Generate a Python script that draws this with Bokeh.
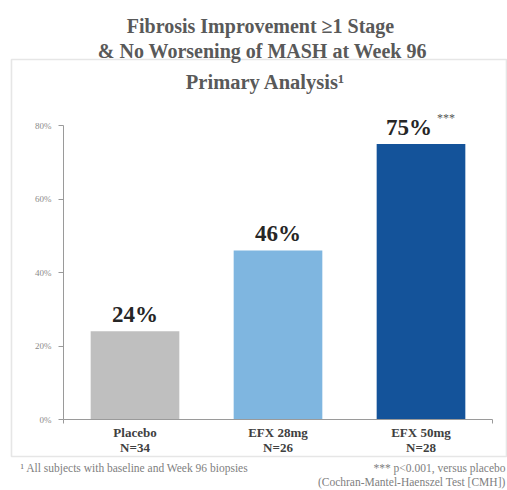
from bokeh.plotting import figure
from bokeh.models import (ColumnDataSource, Range1d, LabelSet, Label, LinearAxis,
                          BoxAnnotation, FixedTicker)
from bokeh.embed import file_html
from bokeh.resources import INLINE

# ---- data ----
groups = ["Placebo", "EFX 28mg", "EFX 50mg"]
n_labels = ["N=34", "N=26", "N=28"]
values = [24, 46, 75]
significance = ["", "", "***"]
y_ticks = [0, 20, 40, 60, 80]
y_tick_labels = ["0%", "20%", "40%", "60%", "80%"]
bar_colors = ["#bfbfbf", "#7fb6e0", "#14539a"]

title_lines = ["Fibrosis Improvement \u22651 Stage", "& No Worsening of MASH at Week 96"]
subtitle = "Primary Analysis\u00b9"
footnote_left = "\u00b9 All subjects with baseline and Week 96 biopsies"
footnote_right = ["*** p<0.001, versus placebo", "(Cochran-Mantel-Haenszel Test [CMH])"]

SERIF = "Liberation Serif"
W, H = 507, 490

# plot-area geometry (canvas pixels)
AX_LEFT, AX_RIGHT = 63, 492     # category band
Y0_PX, Y80_PX = 419, 125        # pixel rows of 0% and 80%

xpos = list(range(len(groups)))
cat_px = (AX_RIGHT - AX_LEFT) / len(groups)
x_start = -0.5 - AX_LEFT / cat_px
x_end = len(groups) - 0.5 + (W - AX_RIGHT) / cat_px
px_per_unit = (Y0_PX - Y80_PX) / (y_ticks[-1] - y_ticks[0])
y_end = Y0_PX / px_per_unit
y_start = -(H - Y0_PX) / px_per_unit

src = ColumnDataSource(dict(
    x=xpos,
    top=values,
    color=bar_colors,
    label=[f"{v}%" for v in values],
    sig=significance,
    xoff=[-12 if s else 0 for s in significance],
))

p = figure(width=W, height=H, output_backend="svg", toolbar_location=None,
           title=None, x_axis_location=None, y_axis_location=None,
           x_range=Range1d(x_start, x_end), y_range=Range1d(y_start, y_end),
           min_border=0)
p.outline_line_color = None
p.xgrid.grid_line_color = None
p.ygrid.grid_line_color = None
p.background_fill_color = "white"
p.border_fill_color = "white"

# framing box
p.add_layout(BoxAnnotation(left=11, right=506, top=59, bottom=456,
                           left_units="canvas", right_units="canvas",
                           top_units="canvas", bottom_units="canvas",
                           fill_color=None, line_color="#ababab", line_width=1.6,
                           level="underlay"))

p.vbar(x="x", top="top", width=0.62, source=src, fill_color="color", line_color=None)

# bar value labels
p.add_layout(LabelSet(x="x", y="top", text="label", source=src, x_offset="xoff",
                      y_offset=9, text_align="center", text_baseline="alphabetic",
                      text_font=SERIF, text_font_style="bold", text_font_size="23px",
                      text_color="#262626"))
p.add_layout(LabelSet(x="x", y="top", text="sig", source=src, x_offset=25,
                      y_offset=26, text_align="center", text_baseline="middle",
                      text_font=SERIF, text_font_size="12px", text_color="#555555"))

# y axis (drawn at the left edge of the category band)
ya = LinearAxis(fixed_location=-0.5, ticker=FixedTicker(ticks=y_ticks),
                major_label_overrides={t: l for t, l in zip(y_ticks, y_tick_labels)},
                bounds=(y_ticks[0], y_ticks[-1]))
ya.axis_line_color = "#9a9a9a"
ya.major_tick_line_color = "#9a9a9a"
ya.major_tick_out = 5
ya.major_tick_in = 0
ya.minor_tick_line_color = None
ya.minor_tick_out = 0
ya.major_label_standoff = 7
ya.major_label_text_font = SERIF
ya.major_label_text_font_size = "9px"
ya.major_label_text_color = "#8a8a8a"
p.add_layout(ya, "left")

# x axis (drawn at 0%)
xa = LinearAxis(fixed_location=0,
                ticker=FixedTicker(ticks=xpos, minor_ticks=[-0.5, len(groups) - 0.5]),
                major_label_overrides={i: f"{g}\n{n}" for i, g, n in zip(xpos, groups, n_labels)},
                bounds=(-0.5, len(groups) - 0.5))
xa.axis_line_color = "#9a9a9a"
xa.major_tick_line_color = None
xa.major_tick_out = 0
xa.major_tick_in = 0
xa.minor_tick_line_color = "#9a9a9a"
xa.minor_tick_out = 4
xa.minor_tick_in = 0
xa.major_label_standoff = 1
xa.major_label_text_font = SERIF
xa.major_label_text_font_size = "13px"
xa.major_label_text_font_style = "bold"
xa.major_label_text_line_height = 1.05
xa.major_label_text_color = "#404040"
p.add_layout(xa, "below")

def add_text(txt, x, y, size, align="center", baseline="alphabetic", bold=False,
             color="#595959"):
    p.add_layout(Label(x=x, y=y, x_units="canvas", y_units="canvas",
                       text=txt, text_align=align, text_baseline=baseline,
                       text_font=SERIF, text_font_size=size,
                       text_font_style="bold" if bold else "normal",
                       text_color=color))

add_text(title_lines[0], 260, 25, "20px", bold=True)
add_text(title_lines[1], 262, 50, "20px", bold=True)
add_text(subtitle, 265, 81, "20.5px", bold=True)
add_text(footnote_left, 20, 467, "11.5px", align="left", baseline="middle", color="#808080")
add_text(footnote_right[0], 505, 467, "11.5px", align="right", baseline="middle", color="#808080")
add_text(footnote_right[1], 505, 481, "11.5px", align="right", baseline="middle", color="#808080")

open("out.html", "w").write(file_html(p, INLINE))
